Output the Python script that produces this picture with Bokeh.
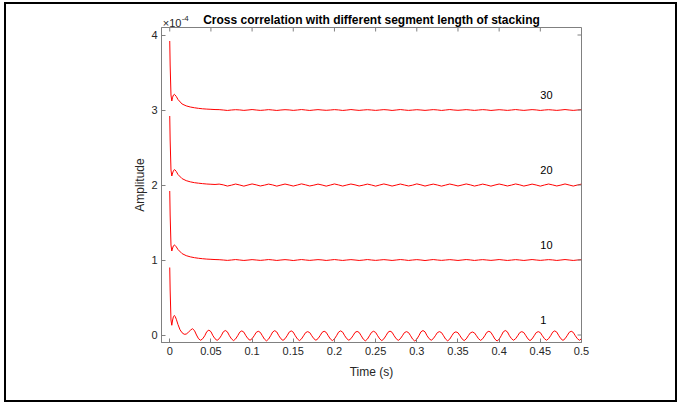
import numpy as np
from bokeh.plotting import figure
from bokeh.models import Range1d, FixedTicker, Label, NumeralTickFormatter
from bokeh.embed import file_html
from bokeh.resources import INLINE

# ---------------- data (amplitude in units of 1e-4) ----------------
time_head = [0.0, 0.0005, 0.0015, 0.0025, 0.0035, 0.0045, 0.0055, 0.0065, 0.008, 0.01]
time_fine = np.round(np.arange(0.0125, 0.50001, 0.0025), 4)    # sample grid, segment "1"
time_coarse = np.round(np.arange(0.015, 0.50001, 0.005), 4)    # sample grid, segments 10/20/30

segment_labels = ["1", "10", "20", "30"]
segment_offsets = [0, 1, 2, 3]

head_1 = [0.90, 0.60, 0.20, 0.13, 0.20, 0.245, 0.26, 0.25, 0.21, 0.14]
head_10 = [0.92, 0.60, 0.20, 0.12, 0.16, 0.19, 0.20, 0.195, 0.175, 0.14]
head_20 = [0.92, 0.60, 0.20, 0.12, 0.16, 0.19, 0.205, 0.20, 0.18, 0.14]
head_30 = [0.92, 0.60, 0.20, 0.12, 0.17, 0.20, 0.21, 0.20, 0.18, 0.14]

tail_1 = [
    0.07, 0.03, 0.01, 0.012, 0.035, 0.062,
    0.084, 0.06, 0.0, -0.05, -0.07, -0.05, -0.01, 0.045,
    0.065, 0.045, -0.01, -0.05, -0.072, -0.05, -0.01, 0.042,
    0.06, 0.042, -0.01, -0.052, -0.075, -0.052, -0.01, 0.038,
    0.055, 0.038, -0.01, -0.049, -0.07, -0.049, -0.01, 0.035,
    0.05, 0.035, -0.01, -0.055, -0.078, -0.055, -0.01, 0.04,
    0.058, 0.04, -0.01, -0.05, -0.072, -0.05, -0.01, 0.038,
    0.055, 0.038, -0.01, -0.052, -0.075, -0.052, -0.01, 0.032,
    0.045, 0.032, -0.01, -0.049, -0.07, -0.049, -0.01, 0.035,
    0.05, 0.035, -0.01, -0.052, -0.075, -0.052, -0.01, 0.038,
    0.055, 0.038, -0.01, -0.049, -0.07, -0.049, -0.01, 0.034,
    0.048, 0.034, -0.01, -0.055, -0.078, -0.055, -0.01, 0.035,
    0.05, 0.035, -0.01, -0.052, -0.075, -0.052, -0.01, 0.036,
    0.052, 0.036, -0.01, -0.05, -0.072, -0.05, -0.01, 0.032,
    0.045, 0.032, -0.01, -0.056, -0.08, -0.056, -0.01, 0.042,
    0.06, 0.042, -0.01, -0.049, -0.07, -0.049, -0.01, 0.032,
    0.045, 0.032, -0.01, -0.055, -0.078, -0.055, -0.01, 0.03,
    0.042, 0.03, -0.01, -0.052, -0.075, -0.052, -0.01, 0.028,
    0.04, 0.028, -0.01, -0.05, -0.072, -0.05, -0.01, 0.035,
    0.05, 0.035, -0.01, -0.056, -0.08, -0.056, -0.01, 0.042,
    0.06, 0.042, -0.01, -0.049, -0.07, -0.049, -0.01, 0.032,
    0.045, 0.032, -0.01, -0.052, -0.075, -0.052, -0.01, 0.032,
    0.045, 0.032, -0.01, -0.049, -0.07, -0.049, -0.01, 0.038,
    0.055, 0.038, -0.01, -0.05, -0.072, -0.05, -0.01, 0.035,
    0.05, 0.035, -0.01, -0.049, -0.07, -0.049,
]

tail_10 = [
    0.085, 0.058, 0.042, 0.031, 0.023, 0.017, 0.012, 0.009, 0.006,
    0.004, 0.0, -0.005, 0.0, 0.006, 0.0, -0.006, -0.001,
    0.005, 0.0, -0.005, 0.0, 0.006, 0.001, -0.006, 0.0,
    0.005, 0.0, -0.007, 0.0, 0.006, 0.0, -0.005, 0.0,
    0.005, 0.001, -0.006, 0.0, 0.006, 0.0, -0.006, 0.0,
    0.005, 0.0, -0.006, -0.001, 0.006, 0.0, -0.005, 0.0,
    0.005, 0.0, -0.006, 0.0, 0.006, 0.001, -0.006, 0.0,
    0.005, 0.0, -0.007, 0.0, 0.006, 0.0, -0.005, 0.0,
    0.005, 0.0, -0.006, 0.0, 0.006, 0.001, -0.006, 0.0,
    0.005, 0.0, -0.005, 0.0, 0.006, 0.0, -0.006, -0.001,
    0.005, 0.0, -0.006, 0.0, 0.006, 0.0, -0.005, 0.0,
    0.005, 0.001, -0.006, 0.0, 0.006, 0.0, -0.006, 0.0,
    0.005,
]

tail_20 = [
    0.085, 0.058, 0.042, 0.031, 0.024, 0.018, 0.013, 0.01, 0.007,
    0.012, 0.002, -0.014, -0.002, 0.013, 0.0, -0.015, 0.0,
    0.014, 0.002, -0.013, -0.002, 0.012, 0.001, -0.015, -0.001,
    0.013, 0.0, -0.014, 0.0, 0.015, 0.002, -0.013, -0.002,
    0.012, 0.0, -0.015, -0.001, 0.014, 0.001, -0.014, 0.0,
    0.013, 0.002, -0.013, -0.002, 0.012, 0.0, -0.015, 0.0,
    0.014, 0.001, -0.014, -0.001, 0.013, 0.0, -0.013, -0.002,
    0.015, 0.002, -0.014, 0.0, 0.012, 0.0, -0.015, -0.001,
    0.013, 0.001, -0.013, 0.0, 0.014, 0.002, -0.014, -0.002,
    0.012, 0.0, -0.015, 0.0, 0.013, 0.001, -0.013, -0.001,
    0.014, 0.002, -0.014, -0.002, 0.012, 0.0, -0.015, 0.0,
    0.013, 0.001, -0.013, -0.001, 0.014, 0.0, -0.014, 0.0,
    0.012,
]

tail_30 = [
    0.08, 0.055, 0.04, 0.03, 0.022, 0.016, 0.012, 0.009, 0.006,
    0.005, 0.0, -0.006, 0.0, 0.004, 0.001, -0.005, 0.0,
    0.006, 0.0, -0.005, -0.001, 0.005, 0.0, -0.006, 0.0,
    0.004, 0.001, -0.005, 0.0, 0.006, 0.0, -0.006, 0.0,
    0.005, 0.0, -0.004, 0.0, 0.005, 0.001, -0.006, -0.001,
    0.006, 0.0, -0.005, 0.0, 0.004, 0.0, -0.005, 0.0,
    0.005, 0.001, -0.006, 0.0, 0.006, 0.0, -0.005, -0.001,
    0.004, 0.0, -0.005, 0.0, 0.005, 0.001, -0.006, 0.0,
    0.006, 0.0, -0.004, 0.0, 0.005, 0.0, -0.005, 0.0,
    0.005, 0.001, -0.006, -0.001, 0.004, 0.0, -0.005, 0.0,
    0.006, 0.0, -0.005, 0.0, 0.005, 0.001, -0.006, 0.0,
    0.004, 0.0, -0.005, 0.0, 0.006, 0.0, -0.005, 0.0,
    0.005,
]

x_ticks = [0, 0.05, 0.1, 0.15, 0.2, 0.25, 0.3, 0.35, 0.4, 0.45, 0.5]
y_ticks = [0, 1, 2, 3, 4]

title_text = "Cross correlation with different segment length of stacking"
x_label = "Time (s)"
y_label = "Amplitude"
exp_base = "\u00d710"
exp_power = "-4"

# ---------------- figure ----------------
FONT = "Liberation Sans"
AX = "#808080"
TXT = "#262626"

x_rng = Range1d(-0.01, 0.5)
y_rng = Range1d(-0.1, 4.1)

p = figure(width=669, height=396, title=title_text,
           x_range=x_rng, y_range=y_rng,
           output_backend="svg", toolbar_location=None,
           min_border_left=155, min_border_right=94,
           min_border_top=23, min_border_bottom=58)
p.styles = {"outline": "2px solid #000000", "margin-top": "4px", "margin-left": "6px"}
p.background_fill_color = "white"
p.border_fill_color = "white"
p.outline_line_color = AX
p.xgrid.visible = False
p.ygrid.visible = False

p.title.align = "center"
p.title.text_font = FONT
p.title.text_font_size = "12px"
p.title.text_font_style = "bold"
p.title.text_color = "#000000"
p.title.standoff = 2
p.title.vertical_align = "bottom"

segments = [
    (time_fine, head_1, tail_1),
    (time_coarse, head_10, tail_10),
    (time_coarse, head_20, tail_20),
    (time_coarse, head_30, tail_30),
]
for (tgrid, head, tail), off, lab in zip(segments, segment_offsets, segment_labels):
    t = list(time_head) + list(tgrid)
    y = [off + v for v in list(head) + list(tail)]
    p.line(t, y, line_color="#ff0000", line_width=1)
    p.add_layout(Label(x=0.45, y=off + 0.2, text=lab, text_align="left",
                       text_baseline="middle", text_font=FONT,
                       text_font_size="11px", text_color="#000000"))

for ax in (p.xaxis[0], p.yaxis[0]):
    ax.axis_line_color = AX
    ax.major_tick_line_color = AX
    ax.major_tick_in = 4
    ax.major_tick_out = 0
    ax.minor_tick_line_color = None
    ax.major_label_text_font = FONT
    ax.major_label_text_color = TXT
    ax.major_label_text_font_size = "11px"
    ax.major_label_standoff = 4
    ax.axis_label_text_font = FONT
    ax.axis_label_text_font_size = "12px"
    ax.axis_label_text_font_style = "normal"
    ax.axis_label_text_color = TXT

p.xaxis.ticker = FixedTicker(ticks=x_ticks)
p.yaxis.ticker = FixedTicker(ticks=y_ticks)
p.xaxis.formatter = NumeralTickFormatter(format="0.[00]")
p.xaxis.axis_label = x_label
p.yaxis.axis_label = y_label
p.xaxis.axis_label_standoff = 7
p.yaxis.axis_label_standoff = 1

# inward ticks on the top and right edges of the box
p.ray(x=x_ticks, y=[y_rng.end] * len(x_ticks), length=4, length_units="screen",
      angle=-np.pi / 2, line_color=AX, line_width=1)
p.ray(x=[x_rng.end] * len(y_ticks), y=y_ticks, length=4, length_units="screen",
      angle=np.pi, line_color=AX, line_width=1)

# exponent marker (x10^-4) above the top-left corner; kept in a side panel so it is not clipped
p.add_layout(Label(x=-0.0085, y=4.157, text=exp_base,
                   text_align="left", text_baseline="alphabetic", text_font=FONT,
                   text_font_size="11px", text_color=TXT), "right")
p.add_layout(Label(x=0.0145, y=4.222, text=exp_power,
                   text_align="left", text_baseline="alphabetic", text_font=FONT,
                   text_font_size="8px", text_color=TXT), "right")

open("out.html", "w").write(file_html(p, INLINE))
